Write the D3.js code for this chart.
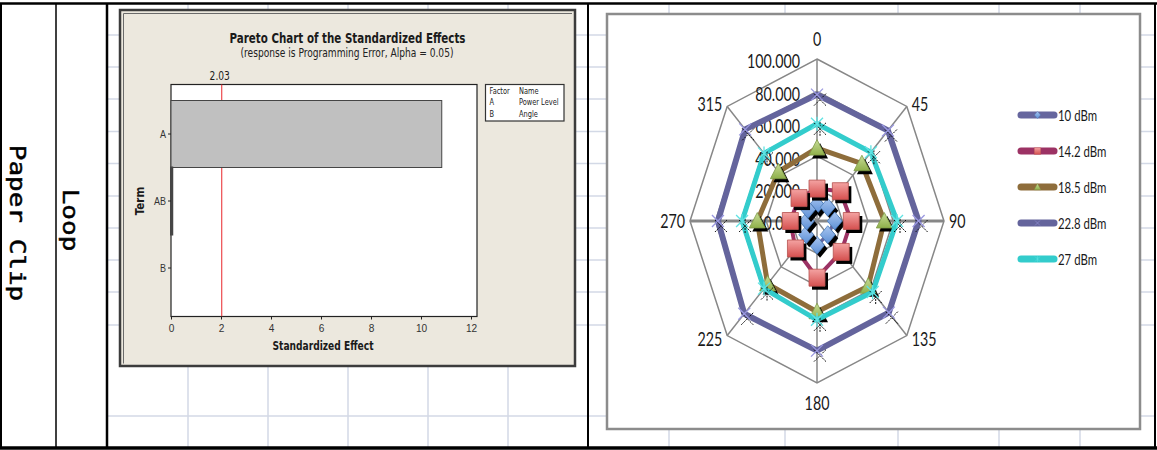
<!DOCTYPE html>
<html>
<head>
<meta charset="utf-8">
<script src="https://cdn.jsdelivr.net/npm/d3@7"></script>
<style>
body { margin: 0; background: #fff; }
</style>
</head>
<body>
<div id="chart"></div>
<script>
// ---- data ----
var rowLabels = ["Paper Clip", "Loop"]

var paretoTerms = ["A", "AB", "B"]
var paretoEffects = [10.83, 0.05, 0]
var paretoCritical = 2.03
var paretoTicks = [0, 2, 4, 6, 8, 10, 12]
var factorCodes = ["A", "B"]
var factorNames = ["Power Level", "Angle"]

var angles = [0, 45, 90, 135, 180, 225, 270, 315]
var ringValues = [0, 20, 40, 60, 80, 100]
var seriesNames = ["10 dBm", "14.2 dBm", "18.5 dBm", "22.8 dBm", "27 dBm"]
var p10 = [10, 12, 14, 12, 15, 12, 8, 10]
var p14 = [20, 26, 27, 27, 35, 24, 21, 20]
var p18 = [45, 50, 53, 57, 56, 55, 47, 43]
var p22 = [78, 79, 80, 80, 80, 81, 78, 80]
var p27 = [60, 60, 63, 62, 61, 59, 59, 59]
var seriesValues = [p10, p14, p18, p22, p27]

// ---- styles ----
var seriesColors = ["#66669e", "#9c3264", "#8e6d3b", "#64649c", "#33cccc"]
var seriesWidths = [3.5, 4, 5, 6, 5]
var markerTypes = ["diamond", "square", "triangle", "cross", "star"]
var markerFills = ["url(#gDiamond)", "url(#gSquare)", "url(#gTri)", "none", "none"]
var markerStrokes = ["#4a7ebb", "#b5504e", "#7f9a48", "#9a98e0", "#5fe3e3"]

var W = 1157, H = 450
var svg = d3.select("#chart").append("svg")
    .attr("width", W)
    .attr("height", H)
    .style("font-family", "'DejaVu Sans Condensed', 'DejaVu Sans', sans-serif")

var defs = svg.append("defs")
function grad(id, top, bottom) {
    var g = defs.append("linearGradient").attr("id", id).attr("x1", 0).attr("y1", 0).attr("x2", 0).attr("y2", 1)
    g.append("stop").attr("offset", "0%").attr("stop-color", top)
    g.append("stop").attr("offset", "100%").attr("stop-color", bottom)
}
grad("gDiamond", "#a9c6f0", "#5c8fd6")
grad("gSquare", "#f4a3a2", "#d5504f")
grad("gTri", "#c8dc98", "#8fb04a")

svg.append("rect").attr("width", W).attr("height", H).attr("fill", "white")

// squashed text helper (the picture is compressed horizontally)
function sqText(g, x, y, s, size, sx, anchor) {
    return g.append("text")
        .attr("transform", "translate(" + x + "," + y + ") scale(" + sx + ",1)")
        .attr("text-anchor", anchor || "middle")
        .attr("dominant-baseline", "central")
        .style("font-size", size + "px")
        .attr("fill", "#1a1a1a")
        .text(s)
}

//spreadsheet grid

var gridRows = [35, 67, 99, 131.5, 163.5, 196, 228, 260, 292, 325, 416]
var gridCols = [188, 268, 348, 428, 508, 669, 785, 898, 999, 1080]

svg.selectAll(".hgrid")
    .data(gridRows)
    .enter()
    .append("line")
    .attr("class", "hgrid")
    .attr("x1", 107).attr("x2", 1155)
    .attr("y1", function(d) { return d })
    .attr("y2", function(d) { return d })
    .attr("stroke", "#d3d9e6")
    .attr("stroke-width", 1.5)

svg.selectAll(".vgrid")
    .data(gridCols)
    .enter()
    .append("line")
    .attr("class", "vgrid")
    .attr("y1", 3).attr("y2", 447)
    .attr("x1", function(d) { return d })
    .attr("x2", function(d) { return d })
    .attr("stroke", "#d3d9e6")
    .attr("stroke-width", 1.5)

// cell borders
svg.append("line").attr("x1", 0).attr("x2", W).attr("y1", 3.5).attr("y2", 3.5).attr("stroke", "#000").attr("stroke-width", 2.5)
svg.append("line").attr("x1", 0).attr("x2", W).attr("y1", 448).attr("y2", 448).attr("stroke", "#000").attr("stroke-width", 3.5)
var borderX = [1, 56, 107, 588, 1155]
var borderW = [2, 1.5, 2.5, 2, 2]
borderX.forEach(function(x, i) {
    svg.append("line").attr("x1", x).attr("x2", x).attr("y1", 3).attr("y2", 448)
        .attr("stroke", "#000").attr("stroke-width", borderW[i])
})

// rotated row labels
var rowLabelPos = [[17, 223], [70, 220]]
rowLabels.forEach(function(s, i) {
    svg.append("text")
        .attr("transform", "translate(" + rowLabelPos[i][0] + "," + rowLabelPos[i][1] + ") rotate(90) scale(1,0.8)")
        .attr("text-anchor", "middle")
        .attr("dominant-baseline", "central")
        .style("font-family", "'DejaVu Sans Mono', monospace")
        .style("font-size", "26px")
        .attr("fill", "#000")
        .attr("stroke", "#000")
        .attr("stroke-width", 0.6)
        .text(s)
})

//pareto chart (Minitab window)

var pg = svg.append("g")
pg.append("rect")
    .attr("x", 120).attr("y", 10).attr("width", 455).attr("height", 356)
    .attr("fill", "#ece8de")
    .attr("stroke", "#3c3c3c")
    .attr("stroke-width", 2.5)
pg.append("path")
    .attr("d", "M123.5,363.5 V13.5 H572")
    .attr("fill", "none")
    .attr("stroke", "#6a6a6a")
    .attr("stroke-width", 1)

var px = d3.scaleLinear().domain([0, 12.24]).range([171, 477])
var py = d3.scaleBand().domain(paretoTerms).range([100.5, 301.5]).padding(0)

pg.append("rect")
    .attr("x", 171).attr("y", 84.5).attr("width", 306).attr("height", 232)
    .attr("fill", "white")
    .attr("stroke", "#222")
    .attr("stroke-width", 1.2)

pg.append("line")
    .attr("x1", px(paretoCritical)).attr("x2", px(paretoCritical))
    .attr("y1", 84.5).attr("y2", 316.5)
    .attr("stroke", "#e8262b")
    .attr("stroke-width", 1)

pg.selectAll(".bar")
    .data(paretoTerms)
    .enter()
    .append("rect")
    .attr("class", "bar")
    .attr("x", px(0))
    .attr("y", function(d) { return py(d) })
    .attr("width", function(d, i) { return px(paretoEffects[i]) - px(0) })
    .attr("height", py.bandwidth())
    .attr("fill", "#c0c0c0")
    .attr("stroke", function(d, i) { return paretoEffects[i] > 0 ? "#454545" : "none" })
    .attr("stroke-width", function(d, i) { return paretoEffects[i] > 0.5 ? 1 : 2 })

var xAxis = pg.append("g")
    .attr("transform", "translate(0,316.5)")
    .call(d3.axisBottom(px).tickValues(paretoTicks).tickSize(3).tickPadding(4))
xAxis.select(".domain").remove()
xAxis.selectAll("line").attr("stroke", "#222")
xAxis.selectAll("text")
    .style("font-size", "11.5px")
    .attr("fill", "#333")
    .attr("transform", "scale(0.88,1)")

var yAxis = pg.append("g")
    .attr("transform", "translate(171,0)")
    .call(d3.axisLeft(py).tickSize(3).tickPadding(3))
yAxis.select(".domain").remove()
yAxis.selectAll("line").attr("stroke", "#222")
yAxis.selectAll("text")
    .style("font-size", "11px")
    .attr("fill", "#333")
    .attr("transform", "scale(0.82,1)")

sqText(pg, px(paretoCritical) - 2, 76, d3.format(".2f")(paretoCritical), 11.5, 0.88)

pg.append("text")
    .attr("x", 347.5).attr("y", 37.5)
    .attr("text-anchor", "middle").attr("dominant-baseline", "central")
    .attr("textLength", 236).attr("lengthAdjust", "spacingAndGlyphs")
    .style("font-size", "13.5px").style("font-weight", "bold")
    .attr("fill", "#1a1a1a")
    .text("Pareto Chart of the Standardized Effects")
pg.append("text")
    .attr("x", 347).attr("y", 53)
    .attr("text-anchor", "middle").attr("dominant-baseline", "central")
    .attr("textLength", 213).attr("lengthAdjust", "spacingAndGlyphs")
    .style("font-size", "11.5px")
    .attr("fill", "#222")
    .text("(response is Programming Error, Alpha = 0.05)")
pg.append("text")
    .attr("x", 323).attr("y", 346)
    .attr("text-anchor", "middle").attr("dominant-baseline", "central")
    .attr("textLength", 101).attr("lengthAdjust", "spacingAndGlyphs")
    .style("font-size", "12px").style("font-weight", "bold")
    .attr("fill", "#1a1a1a")
    .text("Standardized Effect")
pg.append("text")
    .attr("transform", "translate(139.5,201) rotate(-90)")
    .attr("text-anchor", "middle").attr("dominant-baseline", "central")
    .style("font-size", "11.5px").style("font-weight", "bold")
    .attr("fill", "#1a1a1a")
    .text("Term")

// factor legend
pg.append("rect")
    .attr("x", 485.5).attr("y", 84.5).attr("width", 78.5).attr("height", 36.5)
    .attr("fill", "white").attr("stroke", "#333").attr("stroke-width", 1.2)
var legRows = [["Factor", "Name"]].concat(factorCodes.map(function(c, i) { return [c, factorNames[i]] }))
legRows.forEach(function(r, i) {
    sqText(pg, 489.5, 90.5 + i * 11.5, r[0], 9, 0.82, "start")
    sqText(pg, 519, 90.5 + i * 11.5, r[1], 9, 0.82, "start")
})

//radar chart (Excel)

var rg = svg.append("g").style("font-family", "Lato, 'Open Sans', sans-serif")
rg.append("rect")
    .attr("x", 607).attr("y", 14).attr("width", 533).attr("height", 415)
    .attr("fill", "white")
    .attr("stroke", "#8c8c8c")
    .attr("stroke-width", 2.5)

var cx = 817, cy = 221
var rX = d3.scaleLinear().domain([0, 100]).range([0, 127])
var rY = d3.scaleLinear().domain([0, 100]).range([0, 162])
function pt(v, a) {
    var t = a * Math.PI / 180
    return [cx + rX(v) * Math.sin(t), cy - rY(v) * Math.cos(t)]
}

var ringLine = d3.line().curve(d3.curveLinearClosed)

rg.selectAll(".ring")
    .data(ringValues.slice(1))
    .enter()
    .append("path")
    .attr("class", "ring")
    .attr("d", function(v) { return ringLine(angles.map(function(a) { return pt(v, a) })) })
    .attr("fill", "none")
    .attr("stroke", "#878787")
    .attr("stroke-width", 1.5)

rg.selectAll(".spoke")
    .data(angles)
    .enter()
    .append("line")
    .attr("class", "spoke")
    .attr("x1", cx).attr("y1", cy)
    .attr("x2", function(a) { return pt(100, a)[0] })
    .attr("y2", function(a) { return pt(100, a)[1] })
    .attr("stroke", "#878787")
    .attr("stroke-width", function(a) { return a % 180 == 90 ? 3 : 1.5 })

ringValues.forEach(function(v) {
    sqText(rg, 800, cy - rY(v) + 2, d3.format(".3f")(v), 19, 0.75, "end")
})

angles.forEach(function(a) {
    var t = a * Math.PI / 180
    var p = pt(100, a)
    var s = Math.sin(t), c = Math.cos(t)
    var anchor = s > 0.1 ? "start" : (s < -0.1 ? "end" : "middle")
    var dx = s > 0.1 ? 5 : (s < -0.1 ? -5 : 0)
    var dy = -c * (Math.abs(s) < 0.1 ? 20 : 4)
    sqText(rg, p[0] + dx, p[1] + dy, String(a), 19, 0.75, anchor)
})

var markerShapes = {
    diamond: "M0,-9L7.5,0L0,9L-7.5,0Z",
    square: "M-8,-8.5H8V8.5H-8Z",
    triangle: "M0,-8.5L8,7L-8,7Z",
    cross: "M-6,-6L6,6M-6,6L6,-6",
    star: "M-6,-6L6,6M-6,6L6,-6M0,-7V7"
}

function drawMarker(g, type, x, y, k, fill, stroke, shadow) {
    var m = g.append("g").attr("transform", "translate(" + x + "," + y + ") scale(" + k + ")")
    if (type == "cross" || type == "star") {
        if (shadow) {
            m.append("path").attr("d", markerShapes[type]).attr("transform", "translate(3,5)")
                .attr("fill", "none").attr("stroke", "#111").attr("stroke-width", 1).attr("stroke-dasharray", "2,1")
        }
        m.append("path").attr("d", markerShapes[type])
            .attr("fill", "none").attr("stroke", stroke).attr("stroke-width", 1.3)
    } else {
        if (shadow) {
            m.append("path").attr("d", markerShapes[type]).attr("transform", "translate(3,3.5)").attr("fill", "#000")
        }
        m.append("path").attr("d", markerShapes[type])
            .attr("fill", fill).attr("stroke", stroke).attr("stroke-width", 0.8)
    }
}

seriesValues.forEach(function(vals, i) {
    var pts = vals.map(function(v, j) { return pt(v, angles[j]) })
    rg.append("path")
        .attr("d", ringLine(pts))
        .attr("fill", "none")
        .attr("stroke", seriesColors[i])
        .attr("stroke-width", seriesWidths[i])
        .attr("stroke-linejoin", "round")
    pts.forEach(function(p) {
        drawMarker(rg, markerTypes[i], p[0], p[1], 1, markerFills[i], markerStrokes[i], true)
    })
})

// series legend
seriesNames.forEach(function(name, i) {
    var y = 115 + i * 36
    rg.append("line")
        .attr("x1", 1021).attr("x2", 1054)
        .attr("y1", y).attr("y2", y)
        .attr("stroke", seriesColors[i])
        .attr("stroke-width", 7)
        .attr("stroke-linecap", "round")
    drawMarker(rg, markerTypes[i], 1037.5, y, 0.4, markerFills[i], markerStrokes[i], false)
    sqText(rg, 1058, y, name, 15, 0.76, "start")
})
</script>
</body>
</html>
